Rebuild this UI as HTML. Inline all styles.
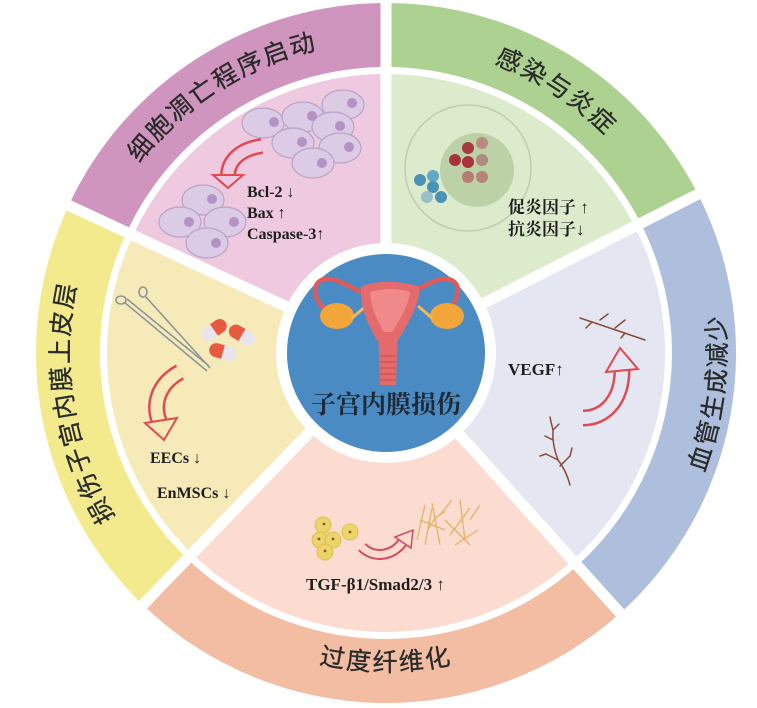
<!DOCTYPE html>
<html><head><meta charset="utf-8"><style>
html,body{margin:0;padding:0;background:#fff;}
svg{display:block;}
.band{font-family:"Liberation Sans","Noto Sans CJK SC",sans-serif;font-size:25px;fill:#2a2a2a;letter-spacing:2px;stroke:#2a2a2a;stroke-width:0.3px;}
.lab{font-family:"Liberation Serif","Noto Serif CJK SC",serif;font-weight:bold;fill:#1e1e1e;}
</style></head><body>
<svg width="757" height="708" viewBox="0 0 757 708" xmlns="http://www.w3.org/2000/svg">
<defs>
<path id="tp1" d="M79.7,299 A311,311 0 0 1 466.5,52.6"/>
<path id="tp2" d="M306,54.5 A309,309 0 0 1 691.2,304.7"/>
<path id="tp3" d="M581,631.5 A340,340 0 0 0 642.6,129.9"/>
<path id="tp4" d="M213.4,618.9 A317,317 0 0 1 137.6,156.1"/>
<path id="tp5" d="M142.4,557.4 A318,318 0 0 0 629.6,557.4"/>
</defs>
<!-- bands -->
<path d="M68.8,205.1 A350,350 0 0 1 386,3 L386,67 A286,286 0 0 0 126.8,232.1 Z" fill="#cf95bf"/>
<path d="M386,3 A350,350 0 0 1 697.9,194.1 L640.8,223.2 A286,286 0 0 0 386,67 Z" fill="#acd190"/>
<path d="M697.9,194.1 A350,350 0 0 1 620.2,613.1 L577.4,565.5 A286,286 0 0 0 640.8,223.2 Z" fill="#adbfdd"/>
<path d="M620.2,613.1 A350,350 0 0 1 142.9,604.8 L187.3,558.7 A286,286 0 0 0 577.4,565.5 Z" fill="#f2bda2"/>
<path d="M142.9,604.8 A350,350 0 0 1 68.8,205.1 L126.8,232.1 A286,286 0 0 0 187.3,558.7 Z" fill="#f2ea8c"/>
<!-- sectors -->
<path d="M386,353 L133.1,235.1 A279,279 0 0 1 386,74 Z" fill="#efc9df"/>
<path d="M386,353 L386,74 A279,279 0 0 1 634.6,226.3 Z" fill="#ddebcd"/>
<path d="M386,353 L634.6,226.3 A279,279 0 0 1 572.7,560.3 Z" fill="#e4e6f1"/>
<path d="M386,353 L572.7,560.3 A279,279 0 0 1 192.2,553.7 Z" fill="#fcdcd0"/>
<path d="M386,353 L192.2,553.7 A279,279 0 0 1 133.1,235.1 Z" fill="#f6eab9"/>
<!-- gaps -->
<g stroke="#fff" stroke-width="11">
<line x1="386" y1="353" x2="386" y2="-10"/>
<line x1="386" y1="353" x2="712" y2="187"/>
<line x1="386" y1="353" x2="630" y2="624"/>
<line x1="386" y1="353" x2="133" y2="615"/>
<line x1="386" y1="353" x2="55" y2="199"/>
</g>
<circle cx="386" cy="353" r="110" fill="#fff"/>
<circle cx="386" cy="353" r="99" fill="#4b8bc4"/>

<!-- band labels -->
<text class="band"><textPath href="#tp1" startOffset="50%" text-anchor="middle">细胞凋亡程序启动</textPath></text>
<text class="band"><textPath href="#tp2" startOffset="50%" text-anchor="middle">感染与炎症</textPath></text>
<text class="band"><textPath href="#tp3" startOffset="50%" text-anchor="middle">血管生成减少</textPath></text>
<text class="band"><textPath href="#tp4" startOffset="50%" text-anchor="middle">损伤子宫内膜上皮层</textPath></text>
<text class="band"><textPath href="#tp5" startOffset="50%" text-anchor="middle">过度纤维化</textPath></text>

<!-- pink cells -->
<g fill="#dccbe4" stroke="#b9a3c9" stroke-width="1.2">
<ellipse cx="343" cy="105" rx="21" ry="15"/>
<ellipse cx="263" cy="123" rx="21" ry="15"/>
<ellipse cx="303" cy="117" rx="21" ry="15"/>
<ellipse cx="333" cy="127" rx="21" ry="15"/>
<ellipse cx="293" cy="143" rx="21" ry="15"/>
<ellipse cx="340" cy="148" rx="21" ry="15"/>
<ellipse cx="313" cy="163" rx="21" ry="15"/>
<ellipse cx="203" cy="200" rx="21" ry="15"/>
<ellipse cx="180" cy="222" rx="21" ry="15"/>
<ellipse cx="225" cy="222" rx="21" ry="15"/>
<ellipse cx="207" cy="243" rx="21" ry="15"/>
</g>
<g fill="#b492c6">
<circle cx="352" cy="103" r="5"/><circle cx="274" cy="122" r="5"/><circle cx="312" cy="116" r="5"/><circle cx="340" cy="126" r="5"/><circle cx="302" cy="142" r="5"/><circle cx="349" cy="147" r="5"/><circle cx="322" cy="163" r="5"/><circle cx="212" cy="199" r="5"/><circle cx="189" cy="222" r="5"/><circle cx="234" cy="222" r="5"/><circle cx="216" cy="243" r="5"/>
</g>
<path d="M262,146 C240,149 228,161 228,176" fill="none" stroke="#e24a52" stroke-width="16"/>
<path d="M262,146 C240,149 228,161 228,176" fill="none" stroke="#efc9df" stroke-width="11"/>
<path d="M213,175 L243,175 L228,188 Z" fill="#efc9df" stroke="#e24a52" stroke-width="2"/>
<text class="lab" font-size="16" x="247" y="197">Bcl-2 ↓</text>
<text class="lab" font-size="16" x="247" y="218">Bax ↑</text>
<text class="lab" font-size="16" x="247" y="239">Caspase-3↑</text>

<!-- green -->
<circle cx="468" cy="168" r="63" fill="none" stroke="#bfcdb0" stroke-width="1.5"/>
<circle cx="477" cy="170" r="37" fill="#bcd2a6"/>
<g>
<circle cx="468" cy="148" r="6" fill="#a63a3e"/><circle cx="482" cy="143" r="6" fill="#b88a80"/><circle cx="455" cy="160" r="6" fill="#a8323a"/><circle cx="468" cy="162" r="6" fill="#a8323a"/><circle cx="482" cy="160" r="6" fill="#b08a7c"/><circle cx="468" cy="177" r="6" fill="#b87c74"/><circle cx="482" cy="177" r="6" fill="#b88478"/>
<circle cx="420" cy="180" r="6" fill="#4b93b5"/><circle cx="433" cy="176" r="6" fill="#62a8c6"/><circle cx="433" cy="187" r="6" fill="#4b93b5"/><circle cx="427" cy="197" r="6" fill="#98c0c8"/><circle cx="441" cy="197" r="6" fill="#4b93b5"/>
</g>
<text class="lab" font-size="17" x="508" y="213">促炎因子 ↑</text>
<text class="lab" font-size="17" x="508" y="235">抗炎因子↓</text>

<!-- yellow -->
<g fill="none" stroke="#8c959c" stroke-width="1.6">
<ellipse cx="121" cy="300" rx="5" ry="4"/><ellipse cx="143" cy="292" rx="4" ry="5"/>
<line x1="124" y1="302" x2="207" y2="371"/><line x1="145" y1="296" x2="210" y2="368"/>
<line x1="127" y1="299" x2="209" y2="366"/>
</g>
<g>
<rect x="200" y="323" width="28" height="14" rx="7" transform="rotate(-35 214 330)" fill="#e8e4ec"/>
<path d="M214,323 h7 a7,7 0 0 1 0,14 h-7 Z" transform="rotate(-35 214 330)" fill="#e85a40"/>
<rect x="228" y="328" width="28" height="14" rx="7" transform="rotate(30 242 335)" fill="#e8e4ec"/>
<path d="M242,328 h-7 a7,7 0 0 0 0,14 h7 Z" transform="rotate(30 242 335)" fill="#e85a40"/>
<rect x="209" y="345" width="28" height="14" rx="7" transform="rotate(15 223 352)" fill="#e8e4ec"/>
<path d="M223,345 h-7 a7,7 0 0 0 0,14 h7 Z" transform="rotate(15 223 352)" fill="#e85a40"/>
</g>
<path d="M180,372 C158,384 152,405 160,423" fill="none" stroke="#e24a52" stroke-width="17"/>
<path d="M180,372 C158,384 152,405 160,423" fill="none" stroke="#f6eab9" stroke-width="12"/>
<path d="M145,423 L177,418 L164,440 Z" fill="#f6eab9" stroke="#e24a52" stroke-width="2"/>
<text class="lab" font-size="16" x="150" y="463">EECs ↓</text>
<text class="lab" font-size="16" x="157" y="498">EnMSCs ↓</text>

<!-- lavender -->
<g fill="none" stroke="#8a4a3a" stroke-width="1.5" stroke-linecap="round">
<path d="M580,318 Q610,328 645,340"/><path d="M600,320 l8,-6"/><path d="M615,328 l10,-8"/><path d="M625,333 l-4,5"/><path d="M592,322 l-6,6"/>
<path d="M570,485 Q566,470 558,460 Q552,445 553,430 Q551,422 550,417"/><path d="M558,460 l-12,-6"/><path d="M560,466 l10,-10 l2,-8"/><path d="M553,440 l-8,-4"/><path d="M553,430 l6,-6"/><path d="M546,454 l-6,2"/>
</g>
<path d="M583,418 C605,418 622,400 622,370" fill="none" stroke="#e24a52" stroke-width="17"/>
<path d="M583,418 C605,418 622,400 622,370" fill="none" stroke="#e4e6f1" stroke-width="12"/>
<path d="M606,372 L638,369 L620,348 Z" fill="#e4e6f1" stroke="#e24a52" stroke-width="2"/>
<text class="lab" font-size="17" x="508" y="375">VEGF↑</text>

<!-- peach -->
<g fill="#ecd36a" stroke="#e0c050" stroke-width="1">
<circle cx="323" cy="525" r="8"/><circle cx="320" cy="540" r="8"/><circle cx="333" cy="540" r="8"/><circle cx="325" cy="552" r="8"/><circle cx="350" cy="532" r="8"/>
</g>
<g fill="#8a5a30"><circle cx="324" cy="524" r="1.4"/><circle cx="319" cy="539" r="1.4"/><circle cx="333" cy="539" r="1.4"/><circle cx="325" cy="551" r="1.4"/><circle cx="350" cy="532" r="1.4"/></g>
<path d="M362,547 C375,560 395,555 404,540" fill="none" stroke="#d54c5c" stroke-width="11"/>
<path d="M362,547 C375,560 395,555 404,540" fill="none" stroke="#fcdcd0" stroke-width="7"/>
<path d="M395,537 L413,530 L411,548 Z" fill="#fcdcd0" stroke="#d54c5c" stroke-width="1.5"/>
<g stroke="#e8b060" stroke-width="1.3" fill="none">
<path d="M417,540 L425,505"/><path d="M425,545 L432,508"/><path d="M432,503 L440,545"/><path d="M440,515 L452,500"/><path d="M445,520 L470,545"/><path d="M450,535 L470,508"/><path d="M460,500 L465,540"/><path d="M470,520 L480,505"/><path d="M420,520 L445,530"/><path d="M455,545 L478,530"/><path d="M428,530 Q435,515 445,512"/>
</g>
<text class="lab" font-size="17" x="306" y="590">TGF-β1/Smad2/3 ↑</text>

<!-- uterus -->
<g>
<path d="M363,293 C350,287 345,283 335,280 C322,276 312,283 316,295 C318,303 322,308 330,312" fill="none" stroke="#e05a5a" stroke-width="4.5"/>
<path d="M410,293 C423,287 428,283 438,280 C451,276 461,283 457,295 C455,303 451,308 443,312" fill="none" stroke="#e05a5a" stroke-width="4.5"/>
<ellipse cx="337" cy="316" rx="17" ry="13" fill="#f2a63a"/>
<ellipse cx="447" cy="316" rx="17" ry="13" fill="#f2a63a"/>
<path d="M352,318 L366,306" stroke="#f2b860" stroke-width="3"/><path d="M432,318 L418,306" stroke="#f2b860" stroke-width="3"/>
<path d="M361,287 C375,280 400,280 420,287 C418,310 405,328 398,340 L377,340 C370,328 360,310 361,287 Z" fill="#e36b6b"/>
<path d="M370,292 C382,288 400,288 410,292 C408,308 398,322 392,332 L384,332 C378,322 371,308 370,292 Z" fill="#f08a8a"/>
<path d="M378,338 L398,338 L397,352 L396,385 L380,385 L379,352 Z" fill="#e36b6b"/>
<g stroke="#c94a4a" stroke-width="1"><line x1="380" y1="356" x2="396" y2="356"/><line x1="380" y1="362" x2="396" y2="362"/><line x1="380" y1="368" x2="396" y2="368"/><line x1="380" y1="374" x2="396" y2="374"/><line x1="380" y1="380" x2="396" y2="380"/></g>
</g>
<text x="386" y="413" text-anchor="middle" font-family="'Liberation Serif','Noto Serif CJK SC',serif" font-weight="bold" font-size="25" fill="#1e2a36">子宫内膜损伤</text>
</svg>
</body></html>
